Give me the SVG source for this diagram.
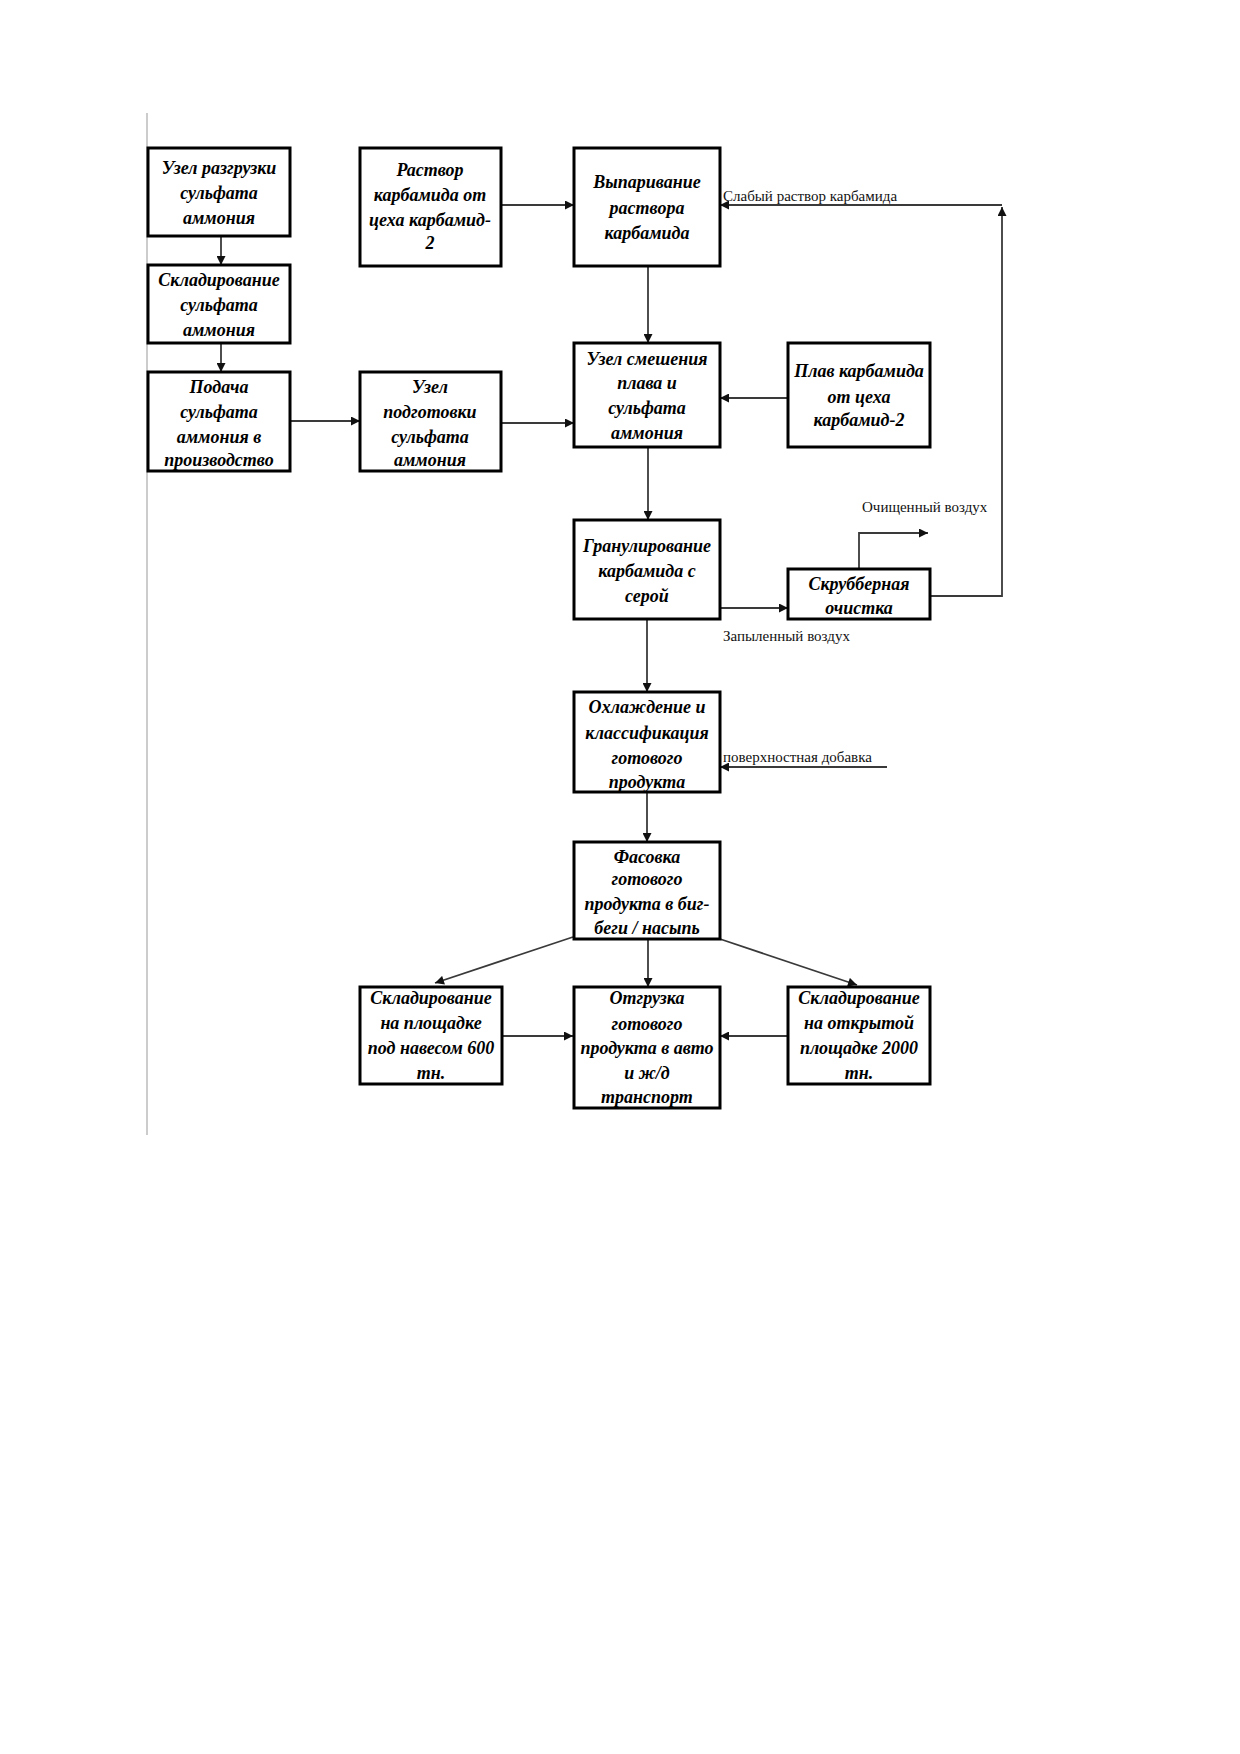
<svg xmlns="http://www.w3.org/2000/svg" width="1240" height="1754" viewBox="0 0 1240 1754">
<style>
.bg{fill:#fff}
.box{fill:#fff;stroke:#000;stroke-width:3}
.t{font-family:"Liberation Serif","Times New Roman",serif;font-size:18px;font-weight:bold;font-style:italic;fill:#000;text-anchor:middle}
.lbl{font-family:"Liberation Serif","Times New Roman",serif;font-size:15px;fill:#111}
.c{fill:none;stroke:#3a3a3a;stroke-width:1.8}
</style>
<defs>
<marker id="ah" viewBox="0 0 10 10" refX="10" refY="5" markerUnits="userSpaceOnUse" markerWidth="10" markerHeight="9" orient="auto">
<path d="M0,0 L10,5 L0,10 z" fill="#111"/>
</marker>
</defs>
<rect class="bg" x="0" y="0" width="1240" height="1754"/>
<line x1="147" y1="113" x2="147" y2="1135" stroke="#bbb" stroke-width="1.5"/>

<g id="connectors">
<line class="c" x1="221" y1="236" x2="221" y2="265" marker-end="url(#ah)"/>
<line class="c" x1="221" y1="343" x2="221" y2="372" marker-end="url(#ah)"/>
<line class="c" x1="290" y1="421" x2="360" y2="421" marker-end="url(#ah)" stroke-width="2.5"/>
<line class="c" x1="501" y1="205" x2="574" y2="205" marker-end="url(#ah)"/>
<line class="c" x1="501" y1="423" x2="574" y2="423" marker-end="url(#ah)"/>
<line class="c" x1="648" y1="266" x2="648" y2="343" marker-end="url(#ah)"/>
<line class="c" x1="788" y1="398" x2="720" y2="398" marker-end="url(#ah)"/>
<line class="c" x1="648" y1="447" x2="648" y2="520" marker-end="url(#ah)"/>
<line class="c" x1="720" y1="608" x2="788" y2="608" marker-end="url(#ah)"/>
<polyline class="c" points="859,569 859,533 928,533" marker-end="url(#ah)"/>
<polyline class="c" points="930,596 1002,596 1002,207" marker-end="url(#ah)"/>
<line class="c" x1="1002" y1="205" x2="720" y2="205" marker-end="url(#ah)"/>
<line class="c" x1="647" y1="619" x2="647" y2="692" marker-end="url(#ah)"/>
<line class="c" x1="887" y1="767" x2="720" y2="767" marker-end="url(#ah)"/>
<line class="c" x1="647" y1="792" x2="647" y2="842" marker-end="url(#ah)"/>
<line class="c" x1="573" y1="937" x2="435" y2="983" marker-end="url(#ah)"/>
<line class="c" x1="648" y1="939" x2="648" y2="987" marker-end="url(#ah)"/>
<line class="c" x1="720" y1="939" x2="857" y2="985" marker-end="url(#ah)"/>
<line class="c" x1="502" y1="1036" x2="573" y2="1036" marker-end="url(#ah)" stroke-width="2.5"/>
<line class="c" x1="788" y1="1036" x2="720" y2="1036" marker-end="url(#ah)" stroke-width="2.5"/>
<text class="lbl" x="723" y="201">Слабый раствор карбамида</text>
<text class="lbl" x="862" y="512">Очищенный воздух</text>
<text class="lbl" x="723" y="641">Запыленный воздух</text>
<text class="lbl" x="723" y="762">поверхностная добавка</text>
</g>

<g id="nA"><rect class="box" x="148" y="148" width="142" height="88"/>
<text class="t" x="219" y="174">Узел разгрузки</text><text class="t" x="219" y="199">сульфата</text><text class="t" x="219" y="224">аммония</text></g>
<g id="nB"><rect class="box" x="148" y="265" width="142" height="78"/>
<text class="t" x="219" y="286">Складирование</text><text class="t" x="219" y="311">сульфата</text><text class="t" x="219" y="336">аммония</text></g>
<g id="nC"><rect class="box" x="148" y="372" width="142" height="99"/>
<text class="t" x="219" y="393">Подача</text><text class="t" x="219" y="418">сульфата</text><text class="t" x="219" y="443">аммония в</text><text class="t" x="219" y="466">производство</text></g>
<g id="nD"><rect class="box" x="360" y="148" width="141" height="118"/>
<text class="t" x="430" y="176">Раствор</text><text class="t" x="430" y="201">карбамида от</text><text class="t" x="430" y="226">цеха карбамид-</text><text class="t" x="430" y="249">2</text></g>
<g id="nE"><rect class="box" x="360" y="372" width="141" height="99"/>
<text class="t" x="430" y="393">Узел</text><text class="t" x="430" y="418">подготовки</text><text class="t" x="430" y="443">сульфата</text><text class="t" x="430" y="466">аммония</text></g>
<g id="nF"><rect class="box" x="574" y="148" width="146" height="118"/>
<text class="t" x="647" y="188">Выпаривание</text><text class="t" x="647" y="214">раствора</text><text class="t" x="647" y="239">карбамида</text></g>
<g id="nG"><rect class="box" x="574" y="343" width="146" height="104"/>
<text class="t" x="647" y="365">Узел смешения</text><text class="t" x="647" y="389">плава и</text><text class="t" x="647" y="414">сульфата</text><text class="t" x="647" y="439">аммония</text></g>
<g id="nH"><rect class="box" x="788" y="343" width="142" height="104"/>
<text class="t" x="859" y="377">Плав карбамида</text><text class="t" x="859" y="403">от цеха</text><text class="t" x="859" y="426">карбамид-2</text></g>
<g id="nI"><rect class="box" x="574" y="520" width="146" height="99"/>
<text class="t" x="647" y="552">Гранулирование</text><text class="t" x="647" y="577">карбамида с</text><text class="t" x="647" y="602">серой</text></g>
<g id="nJ"><rect class="box" x="788" y="569" width="142" height="50"/>
<text class="t" x="859" y="590">Скрубберная</text><text class="t" x="859" y="614">очистка</text></g>
<g id="nK"><rect class="box" x="574" y="692" width="146" height="100"/>
<text class="t" x="647" y="713">Охлаждение и</text><text class="t" x="647" y="739">классификация</text><text class="t" x="647" y="764">готового</text><text class="t" x="647" y="788">продукта</text></g>
<g id="nL"><rect class="box" x="574" y="842" width="146" height="97"/>
<text class="t" x="647" y="863">Фасовка</text><text class="t" x="647" y="885">готового</text><text class="t" x="647" y="910">продукта в биг-</text><text class="t" x="647" y="934">беги / насыпь</text></g>
<g id="nM"><rect class="box" x="360" y="987" width="142" height="97"/>
<text class="t" x="431" y="1004">Складирование</text><text class="t" x="431" y="1029">на площадке</text><text class="t" x="431" y="1054">под навесом 600</text><text class="t" x="431" y="1079">тн.</text></g>
<g id="nN"><rect class="box" x="574" y="987" width="146" height="121"/>
<text class="t" x="647" y="1004">Отгрузка</text><text class="t" x="647" y="1030">готового</text><text class="t" x="647" y="1054">продукта в авто</text><text class="t" x="647" y="1079">и ж/д</text><text class="t" x="647" y="1103">транспорт</text></g>
<g id="nO"><rect class="box" x="788" y="987" width="142" height="97"/>
<text class="t" x="859" y="1004">Складирование</text><text class="t" x="859" y="1029">на открытой</text><text class="t" x="859" y="1054">площадке 2000</text><text class="t" x="859" y="1079">тн.</text></g>
</svg>
